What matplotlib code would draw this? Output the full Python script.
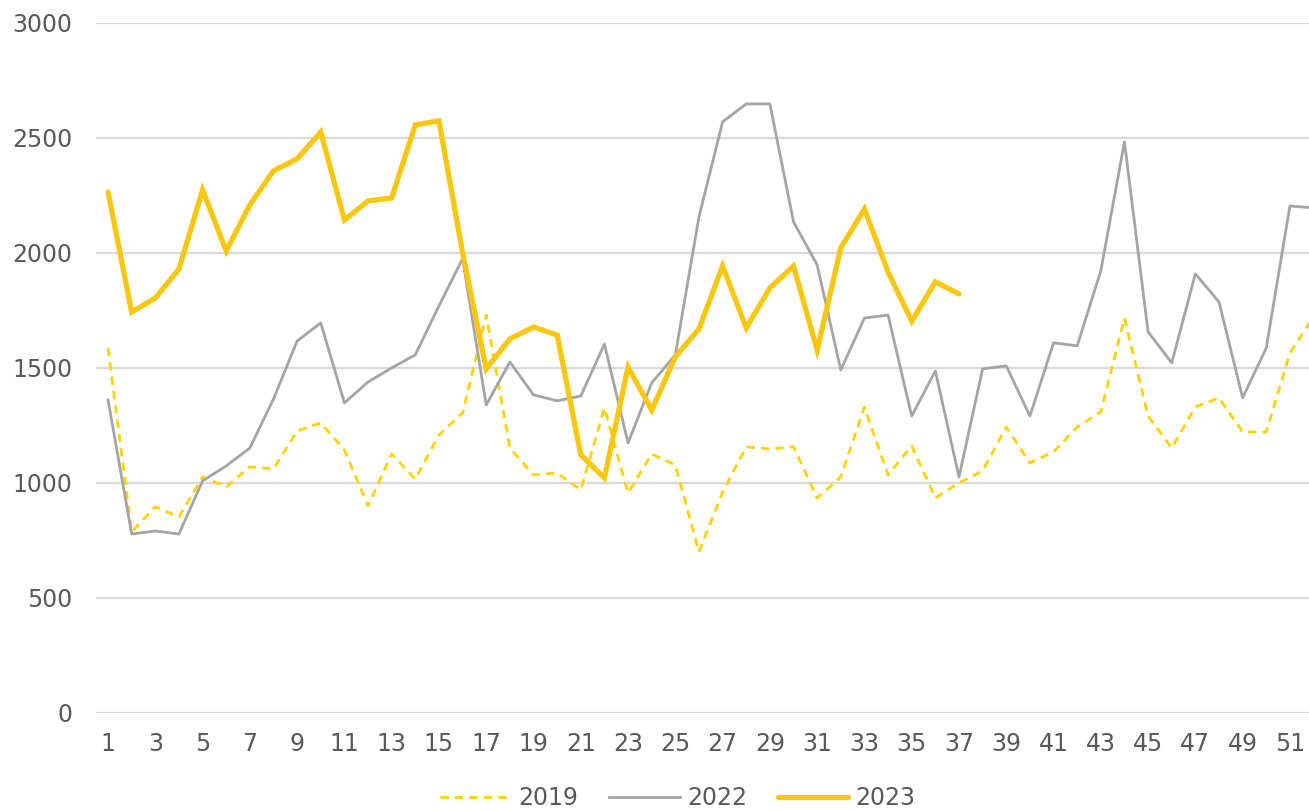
import matplotlib
matplotlib.use("Agg")
import matplotlib.pyplot as plt

weeks = list(range(1, 53))

y2019 = [1587, 787, 896, 852, 1026, 983, 1070, 1061, 1226, 1261,
         1143, 900, 1126, 1017, 1209, 1304, 1730, 1152, 1035, 1043,
         970, 1326, 957, 1126, 1078, 700, 960, 1157, 1148, 1157,
         935, 1026, 1330, 1035, 1161, 935, 1000, 1052, 1243, 1087,
         1135, 1243, 1309, 1717, 1291, 1152, 1330, 1370, 1222, 1222,
         1565, 1722]

y2022 = [1361, 778, 791, 778, 1009, 1074, 1152, 1365, 1617, 1696,
         1348, 1439, 1500, 1557, 1770, 1975, 1339, 1526, 1383, 1357,
         1378, 1604, 1174, 1435, 1557, 2157, 2570, 2648, 2648, 2135,
         1948, 1491, 1717, 1730, 1291, 1487, 1026, 1496, 1509, 1291,
         1609, 1596, 1922, 2483, 1657, 1522, 1909, 1787, 1370, 1587,
         2204, 2196]

y2023 = [2265, 1743, 1804, 1930, 2274, 2009, 2209, 2357, 2409, 2526,
         2143, 2226, 2239, 2557, 2574, 2000, 1496, 1626, 1678, 1643,
         1122, 1022, 1504, 1317, 1548, 1670, 1943, 1674, 1848, 1943,
         1578, 2022, 2191, 1917, 1704, 1874, 1822]

xticks = list(range(1, 52, 2))
yticks = [0, 500, 1000, 1500, 2000, 2500, 3000]

txt = "#595959"

fig = plt.figure(figsize=(13.09, 8.10), dpi=100)
ax = fig.add_axes([0.0735, 0.1198, 0.939, 0.8519])

ax.plot(weeks, y2019, color="#FFD200", lw=2.0, ls=(0, (3, 2.2)), label="2019", zorder=3)
ax.plot(weeks, y2022, color="#A5A5A5", lw=2.0, label="2022", zorder=3)
ax.plot(weeks[:len(y2023)], y2023, color="#F9C712", lw=3.8, label="2023",
        solid_capstyle="round", solid_joinstyle="miter", zorder=4)

ax.set_xlim(0.5, 52.5)
ax.set_ylim(0, 3000)
ax.set_xticks(xticks)
ax.set_yticks(yticks)
ax.grid(axis="y", color="#D9D9D9", lw=1.6)
ax.set_axisbelow(True)
for s in ax.spines.values():
    s.set_visible(False)
ax.tick_params(axis="both", length=0, labelsize=17, colors=txt)
ax.tick_params(axis="y", pad=17)
ax.tick_params(axis="x", pad=14)

fig.legend(loc="center", bbox_to_anchor=(678 / 1309, 1 - 798 / 810), ncol=3,
           frameon=False, fontsize=17, labelcolor=txt, handlelength=3.0,
           handletextpad=0.3, columnspacing=1.3)

fig.savefig("out.png", dpi=100)
